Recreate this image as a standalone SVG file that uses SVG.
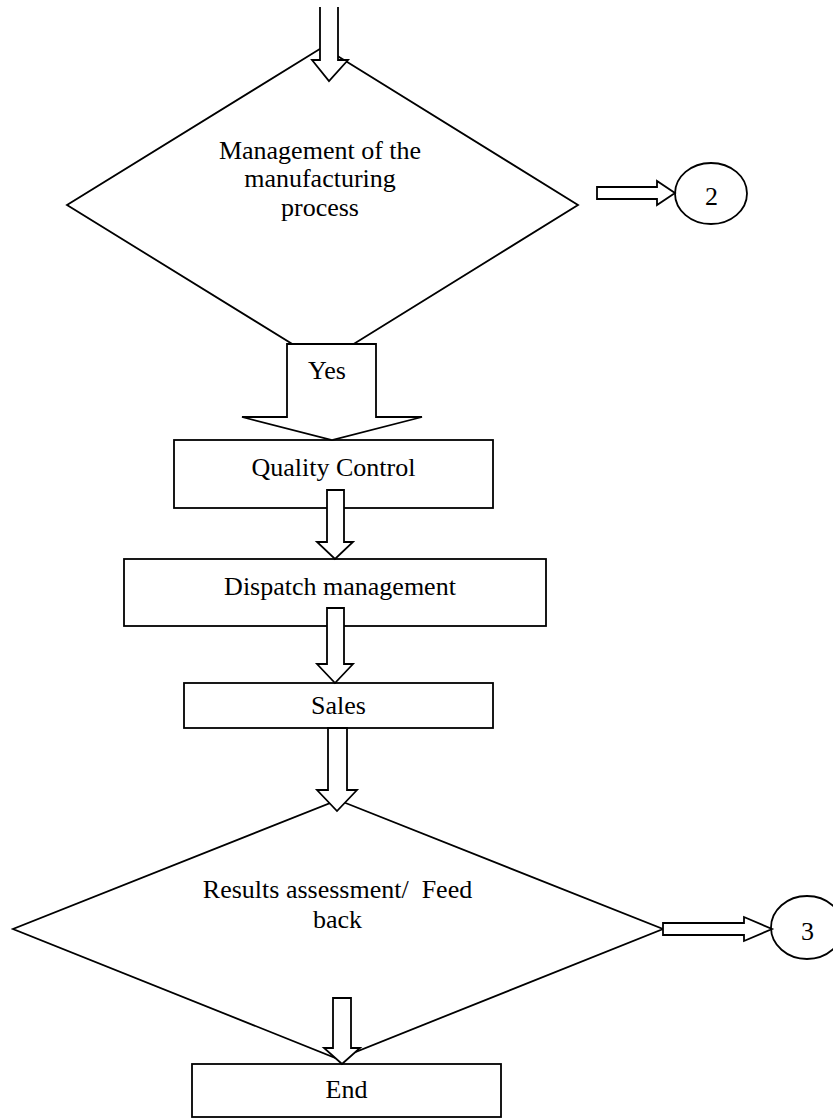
<svg xmlns="http://www.w3.org/2000/svg" width="833" height="1120" viewBox="0 0 833 1120">
<style>
.s{fill:#fff;stroke:#000;stroke-width:1.8;stroke-linejoin:miter}
.t{font-family:"Liberation Serif","Times New Roman",serif;font-size:26px;fill:#000;text-anchor:middle}
</style>
<rect width="833" height="1120" fill="#fff"/>
<g id="decision1">
<polygon class="s" points="323,47 578,205 323,363 67,205"/>
<text class="t" x="320" y="159">Management of the</text>
<text class="t" x="320" y="187">manufacturing</text>
<text class="t" x="320" y="216">process</text>
</g>
<g id="connector2">
<ellipse class="s" cx="711" cy="193.5" rx="36" ry="30.5"/>
<text class="t" x="711.5" y="205">2</text>
</g>
<g id="quality">
<rect class="s" x="174" y="440" width="319" height="68"/>
<text class="t" x="333.5" y="476">Quality Control</text>
</g>
<g id="dispatch">
<rect class="s" x="124" y="559" width="422" height="67"/>
<text class="t" x="340" y="595">Dispatch management</text>
</g>
<g id="sales">
<rect class="s" x="184" y="683" width="309" height="45"/>
<text class="t" x="338.5" y="714">Sales</text>
</g>
<g id="decision2">
<polygon class="s" points="338,800 663,929 338,1059 13,929"/>
<text class="t" x="337.5" y="898" xml:space="preserve">Results assessment/  Feed</text>
<text class="t" x="337.5" y="928">back</text>
</g>
<g id="connector3">
<ellipse class="s" cx="807" cy="927.5" rx="36" ry="31.5"/>
<text class="t" x="807.5" y="940">3</text>
</g>
<g id="end">
<rect class="s" x="192" y="1064" width="309" height="53"/>
<text class="t" x="346.5" y="1098">End</text>
</g>
<g id="connectors">
<polyline class="s" points="320,7 320,60 312,60 329,81 348,60 338,60 338,7"/>
<polygon class="s" points="597,187 657,187 657,181 675,193 657,205 657,199 597,199"/>
<polygon class="s" points="287,344 376,344 376,417 422,417 332,440 242,417 287,417"/>
<text class="t" x="327" y="379">Yes</text>
<polygon class="s" points="327,490 344,490 344,542 353,542 335,559 317,542 327,542"/>
<polygon class="s" points="327,608 344,608 344,664 353,664 335,683 317,664 327,664"/>
<polygon class="s" points="328,728 347,728 347,790 357,790 337,811 317,790 328,790"/>
<polygon class="s" points="333,998 351,998 351,1048 360,1048 342,1064 324,1048 333,1048"/>
<polygon class="s" points="663,923 744,923 744,917 772,929 744,941 744,935 663,935"/>
</g>
</svg>
